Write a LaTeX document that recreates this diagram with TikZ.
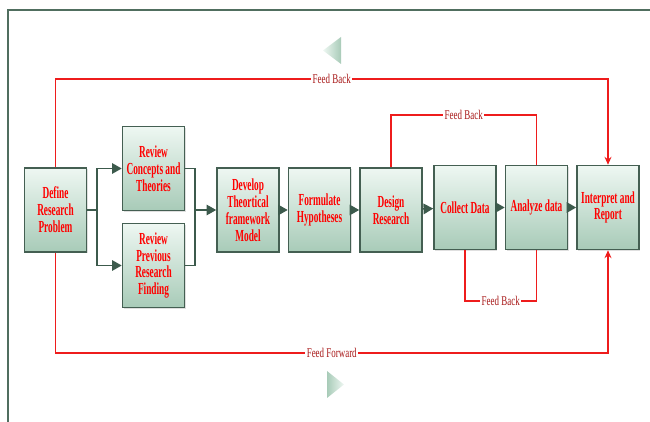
\documentclass[tikz,border=0pt]{standalone}
\usepackage{fontspec}
\usepackage{tikz}
\usetikzlibrary{arrows.meta,shadows}
\newfontfamily\boxfont[FakeStretch=0.55]{Liberation Serif}
\newfontfamily\fbfont[FakeStretch=0.67]{Liberation Serif}
\definecolor{framegreen}{HTML}{506E5F}
\definecolor{boxedge}{HTML}{445F52}
\definecolor{boxtop}{HTML}{EEF7F2}
\definecolor{boxbottom}{HTML}{A8CBB8}
\definecolor{flowgreen}{HTML}{3C5A4C}
\definecolor{fbred}{HTML}{EE1C1C}
\definecolor{lblred}{HTML}{A81818}

\begin{document}
\begin{tikzpicture}[x=0.02cm,y=-0.02cm,
	stage/.style={draw=boxedge,line width=0.9pt,top color=boxtop,bottom color=boxbottom,
		minimum width=1.24cm,minimum height=1.68cm,inner sep=1pt,align=center,text=red,
		font=\boxfont\bfseries\fontsize{9.6}{9.6}\selectfont,
		drop shadow={opacity=0.25,shadow xshift=0.6pt,shadow yshift=-0.6pt}},
	flow/.style={draw=flowgreen,line width=0.8pt},
	flowarrow/.style={flow,-{Triangle[length=5.5pt,width=6pt]}},
	fb/.style={draw=fbred,line width=1pt},
	fbarrow/.style={fb,-{Stealth[length=4.5pt,width=4pt]}},
	fblabel/.style={fill=white,inner sep=0.8pt,text=lblred,font=\fbfont\fontsize{7.6}{8}\selectfont}]
	% page size
	\useasboundingbox (0,0) rectangle (650,422);
	% frame
	\draw[framegreen,line width=1.3pt] (8,422) -- (8,10) -- (650,10);
	% the two small triangles
	\shade[left color=boxtop,right color=boxbottom] (341,37) -- (341,64) -- (323,50.5) -- cycle;
	\shade[left color=boxbottom,right color=boxtop] (327,371) -- (327,398) -- (344,384.5) -- cycle;
	% the stages
	\node[stage] (def) at (55.5,210) {Define\\Research\\Problem};
	\node[stage] (rct) at (153.5,168.5) {Review\\Concepts and\\Theories};
	\node[stage] (rpf) at (153.5,265.5) {Review\\Previous\\Research\\Finding};
	\node[stage] (dev) at (248,210) {Develop\\Theortical\\framework\\Model};
	\node[stage] (hyp) at (319.5,210) {Formulate\\Hypotheses};
	\node[stage] (des) at (391,210) {Design\\Research};
	\node[stage] (col) at (465,207.5) {Collect Data};
	\node[stage] (ana) at (536.5,207.5) {Analyze data};
	\node[stage] (rep) at (608,207.5) {Interpret and\\Report};
	% split and join round the two reviews
	\coordinate (split) at (97,210);
	\coordinate (join) at (195,210);
	\draw[flow] (def.east) -- (split);
	\draw[flowarrow] (split) |- (rct.west);
	\draw[flowarrow] (split) |- (rpf.west);
	\draw[flow] (rct.east) -| (join);
	\draw[flow] (rpf.east) -| (join);
	\draw[flowarrow] (join) -- (dev.west);
	% the main chain
	\draw[flowarrow] (dev) -- (hyp);
	\draw[flowarrow] (hyp) -- (des);
	\draw[flowarrow] (des) -- (col);
	\draw[flowarrow] (col) -- (ana);
	\draw[flowarrow] (ana) -- (rep);
	% feed back and feed forward loops
	\draw[fbarrow] (def.north) -- ++(0,-88) -| node[pos=0.25,fblabel] {Feed Back} (rep.north);
	\draw[fb] (des.north) -- ++(0,-52) -| node[pos=0.25,fblabel] {Feed Back} (ana.north);
	\draw[fb] (col.south) -- ++(0,51) -| node[pos=0.25,fblabel] {Feed Back} (ana.south);
	\draw[fbarrow] (def.south) -- ++(0,100) -| node[pos=0.25,fblabel] {Feed Forward} (rep.south);
\end{tikzpicture}
\end{document}
